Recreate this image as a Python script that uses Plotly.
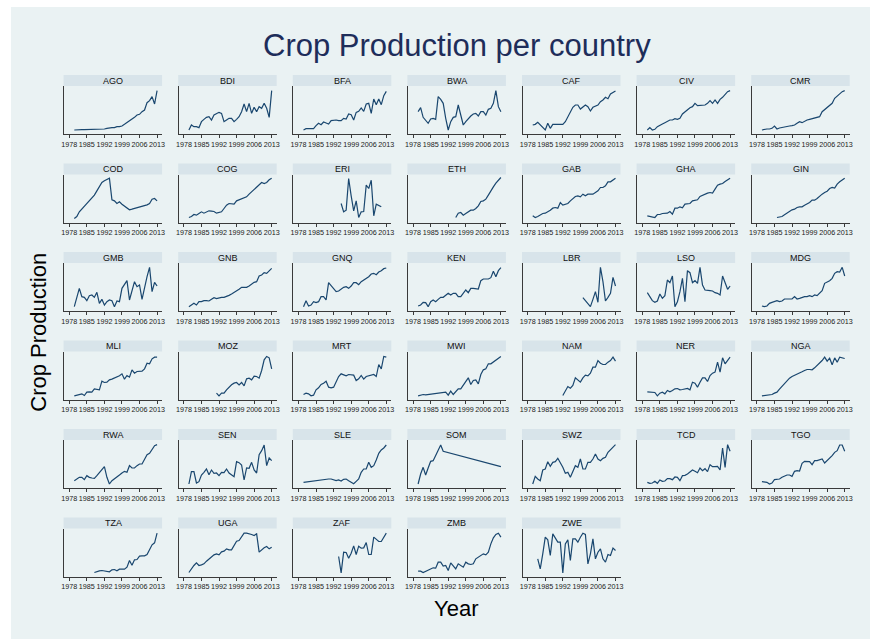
import plotly.graph_objects as go

# ---------------- data (relative crop production index) ----------------
COUNTRIES = ["AGO", "BDI", "BFA", "BWA", "CAF", "CIV", "CMR",
             "COD", "COG", "ERI", "ETH", "GAB", "GHA", "GIN",
             "GMB", "GNB", "GNQ", "KEN", "LBR", "LSO", "MDG",
             "MLI", "MOZ", "MRT", "MWI", "NAM", "NER", "NGA",
             "RWA", "SEN", "SLE", "SOM", "SWZ", "TCD", "TGO",
             "TZA", "UGA", "ZAF", "ZMB", "ZWE"]

START_YEARS = [1980, 1980, 1980, 1980, 1980, 1980, 1980,
               1980, 1980, 1995, 1995, 1980, 1980, 1986,
               1980, 1980, 1980, 1980, 2000, 1980, 1980,
               1980, 1991, 1980, 1980, 1992, 1980, 1980,
               1980, 1980, 1980, 1980, 1980, 1980, 1980,
               1988, 1980, 1994, 1980, 1982]

SOM_YEARS = [1980, 1981, 1982, 1983, 1984, 1985, 1986, 1987, 1988, 1989, 1990, 2013]

AGO = [12, 13, 13, 13, 13, 13, 14, 14, 14, 14, 14, 15, 15, 17, 19, 19, 19, 22, 22, 24, 29, 34, 39, 44, 50, 57, 59, 67, 72, 94, 100, 112, 90, 130]
BDI = [12, 27, 22, 22, 19, 37, 44, 50, 52, 42, 57, 62, 65, 62, 37, 42, 47, 47, 37, 44, 52, 67, 90, 67, 92, 62, 80, 67, 82, 77, 92, 77, 50, 130]
BFA = [12, 16, 16, 16, 16, 25, 32, 28, 36, 33, 30, 40, 42, 42, 40, 40, 47, 45, 60, 58, 42, 65, 68, 78, 68, 90, 92, 62, 105, 88, 105, 88, 115, 128]
BWA = [67, 79, 50, 42, 32, 45, 47, 44, 112, 104, 92, 47, 12, 37, 50, 52, 87, 57, 27, 37, 47, 54, 60, 62, 54, 67, 67, 57, 74, 77, 92, 130, 82, 67]
CAF = [27, 29, 35, 27, 22, 12, 32, 17, 29, 29, 29, 27, 29, 37, 50, 65, 80, 87, 87, 75, 82, 87, 82, 69, 80, 84, 87, 97, 102, 110, 106, 120, 124, 129]
CIV = [12, 19, 12, 14, 22, 27, 30, 34, 37, 42, 42, 46, 44, 47, 60, 67, 72, 79, 82, 92, 85, 85, 87, 87, 92, 100, 92, 102, 92, 104, 110, 120, 127, 130]
CMR = [12, 14, 15, 15, 17, 24, 15, 18, 20, 22, 23, 24, 25, 27, 32, 37, 34, 39, 42, 44, 46, 47, 50, 52, 67, 74, 79, 85, 92, 107, 114, 122, 127, 130]

COD = [12, 18, 32, 40, 48, 58, 65, 72, 82, 95, 110, 120, 125, 128, 133, 68, 65, 57, 62, 55, 50, 43, 38, 40, 42, 45, 47, 49, 51, 53, 57, 70, 72, 65]
COG = [15, 18, 24, 22, 27, 32, 28, 32, 35, 34, 33, 28, 30, 32, 42, 52, 57, 57, 55, 65, 68, 72, 75, 77, 85, 92, 100, 105, 112, 120, 117, 120, 128, 133]
ERI = [57, 32, 37, 132, 80, 35, 65, 15, 32, 33, 112, 102, 127, 20, 55, 50, 47]
ETH = [15, 28, 30, 22, 27, 32, 37, 37, 42, 50, 63, 65, 70, 82, 97, 107, 118, 128, 135]
GAB = [20, 15, 18, 22, 27, 28, 32, 37, 43, 45, 43, 60, 52, 55, 57, 65, 72, 78, 80, 77, 85, 80, 85, 85, 85, 90, 95, 105, 105, 110, 122, 122, 128, 133]
GHA = [20, 18, 15, 15, 24, 24, 27, 27, 28, 33, 25, 43, 43, 47, 44, 55, 57, 57, 65, 67, 68, 78, 82, 85, 88, 90, 88, 100, 112, 115, 117, 123, 128, 133]
GIN = [15, 16, 18, 23, 28, 33, 38, 40, 45, 47, 47, 52, 55, 60, 67, 67, 72, 80, 85, 90, 94, 102, 105, 103, 115, 122, 127, 133]

GMB = [13, 45, 68, 43, 41, 31, 46, 48, 41, 56, 23, 35, 18, 28, 33, 31, 13, 30, 28, 68, 78, 91, 33, 58, 88, 73, 78, 35, 73, 103, 131, 58, 86, 75]
GNB = [13, 17, 23, 18, 28, 28, 31, 31, 30, 35, 40, 37, 40, 41, 41, 43, 47, 51, 55, 59, 65, 71, 71, 71, 75, 81, 86, 88, 105, 108, 115, 113, 121, 128]
GNQ = [13, 31, 15, 18, 28, 25, 28, 43, 43, 33, 85, 75, 65, 58, 60, 65, 71, 73, 68, 75, 85, 85, 79, 88, 93, 98, 103, 111, 113, 109, 117, 121, 127, 129]
KEN = [15, 18, 26, 25, 13, 28, 33, 28, 35, 41, 41, 48, 53, 48, 53, 53, 43, 43, 53, 63, 55, 68, 68, 68, 66, 91, 96, 96, 96, 100, 119, 103, 121, 130]
LBR = [40, 30, 20, 13, 35, 58, 26, 131, 88, 30, 41, 53, 101, 75]
LSO = [55, 43, 31, 26, 30, 51, 38, 46, 93, 85, 105, 13, 28, 58, 98, 28, 121, 115, 85, 91, 83, 131, 78, 63, 61, 61, 60, 55, 53, 48, 105, 83, 65, 75]
MDG = [15, 13, 15, 23, 26, 28, 31, 28, 30, 36, 36, 36, 36, 43, 36, 38, 41, 43, 43, 46, 43, 48, 46, 53, 61, 83, 86, 91, 98, 113, 118, 117, 131, 105]

MLI = [11, 13, 15, 17, 12, 22, 23, 22, 32, 30, 29, 55, 51, 52, 59, 61, 64, 67, 71, 77, 61, 72, 67, 89, 79, 84, 85, 85, 92, 109, 107, 122, 127, 127]
MOZ = [19, 11, 19, 19, 29, 37, 44, 49, 51, 44, 51, 41, 62, 64, 59, 70, 69, 64, 87, 119, 129, 125, 92]
MRT = [15, 19, 17, 11, 13, 29, 35, 45, 49, 55, 37, 35, 37, 55, 69, 77, 75, 71, 75, 74, 73, 57, 62, 72, 61, 69, 71, 73, 75, 69, 105, 92, 129, 127]
MWI = [11, 13, 15, 14, 15, 15, 16, 16, 17, 18, 19, 22, 13, 25, 15, 25, 32, 32, 42, 52, 65, 45, 57, 59, 47, 75, 89, 92, 107, 107, 112, 117, 122, 129]
NAM = [12, 25, 39, 34, 42, 65, 59, 52, 65, 73, 71, 79, 97, 97, 117, 109, 105, 105, 112, 117, 127, 115]
NER = [23, 22, 22, 21, 11, 19, 22, 17, 27, 23, 27, 32, 33, 29, 30, 31, 33, 29, 52, 49, 37, 52, 65, 65, 54, 72, 79, 82, 112, 82, 125, 107, 119, 127]
NGA = [11, 12, 13, 13, 15, 19, 22, 31, 39, 47, 57, 64, 69, 72, 75, 79, 83, 87, 90, 90, 89, 95, 102, 109, 117, 127, 115, 124, 104, 125, 112, 127, 125, 123]

RWA = [22, 28, 32, 32, 25, 37, 32, 30, 29, 37, 47, 57, 64, 32, 12, 22, 27, 32, 39, 45, 50, 47, 67, 60, 60, 67, 72, 72, 84, 100, 104, 114, 127, 130]
SEN = [12, 49, 49, 15, 19, 39, 47, 57, 40, 54, 44, 45, 37, 47, 46, 57, 45, 39, 34, 79, 76, 69, 24, 60, 59, 77, 54, 45, 100, 112, 129, 67, 90, 82]
SLE = [17, 18, 20, 20, 22, 22, 25, 24, 26, 27, 27, 27, 24, 22, 24, 21, 26, 27, 22, 17, 13, 20, 27, 47, 57, 57, 77, 62, 67, 84, 104, 114, 120, 129]
SOM = [12, 42, 62, 39, 60, 80, 82, 97, 114, 129, 110, 64]
SWZ = [12, 35, 27, 22, 54, 57, 79, 65, 77, 79, 89, 77, 62, 44, 47, 32, 52, 67, 62, 87, 57, 57, 77, 77, 87, 102, 87, 82, 89, 92, 107, 114, 122, 130]
TCD = [17, 14, 15, 20, 14, 24, 20, 21, 28, 28, 25, 33, 32, 22, 37, 38, 42, 47, 54, 50, 46, 60, 52, 58, 49, 70, 64, 64, 65, 54, 120, 62, 130, 110]
TGO = [19, 19, 17, 12, 15, 25, 27, 27, 32, 35, 39, 39, 35, 50, 52, 51, 74, 80, 80, 79, 70, 82, 82, 84, 87, 75, 82, 87, 97, 107, 112, 129, 129, 110]

TZA = [12, 15, 17, 18, 16, 15, 14, 20, 21, 17, 22, 22, 22, 28, 48, 34, 50, 51, 61, 62, 62, 66, 83, 95, 101, 130]
UGA = [12, 23, 33, 41, 33, 35, 38, 46, 53, 61, 65, 68, 65, 74, 76, 83, 80, 80, 94, 106, 108, 120, 130, 130, 129, 126, 123, 128, 73, 80, 86, 90, 83, 88]
ZAF = [60, 11, 73, 72, 55, 70, 92, 66, 91, 85, 86, 102, 66, 66, 118, 110, 105, 105, 116, 130]
ZMB = [16, 16, 12, 16, 20, 23, 26, 25, 43, 43, 31, 33, 18, 41, 31, 23, 38, 33, 28, 43, 38, 36, 38, 53, 58, 63, 68, 65, 73, 98, 116, 126, 130, 118]
ZWE = [53, 23, 68, 118, 110, 63, 128, 113, 103, 103, 11, 98, 110, 48, 113, 113, 103, 118, 130, 126, 38, 68, 113, 53, 73, 83, 53, 43, 66, 63, 85, 78]

SERIES = [AGO, BDI, BFA, BWA, CAF, CIV, CMR,
          COD, COG, ERI, ETH, GAB, GHA, GIN,
          GMB, GNB, GNQ, KEN, LBR, LSO, MDG,
          MLI, MOZ, MRT, MWI, NAM, NER, NGA,
          RWA, SEN, SLE, SOM, SWZ, TCD, TGO,
          TZA, UGA, ZAF, ZMB, ZWE]

XTICKS = [1978, 1985, 1992, 1999, 2006, 2013]

# ---------------- layout geometry (pixels) ----------------
W, H = 870, 639
NCOLS = 7
COL_X0, COL_STEP, PLOT_W = 61.7, 115.4, 98.5
ROW_Y0, ROW_STEP, STRIP_H, PLOT_H = 75.0, 88.5, 11.0, 48.0
X_RANGE = [1976, 2015]
Y_RANGE = [0, 144]

FONT = "Liberation Sans, Arial, Helvetica, sans-serif"
LINE_COLOR = "#1A476F"
AXIS_COLOR = "#3a3a3a"
STRIP_COLOR = "#D8E4EA"
BG_COLOR = "#EAF2F3"

fig = go.Figure()
shapes = [dict(type="rect", xref="paper", yref="paper",
               x0=8 / W, x1=1.02, y0=-0.02, y1=1 - 7 / H,
               fillcolor=BG_COLOR, line=dict(width=0), layer="below")]
annotations = []
layout_axes = {}

for i, (name, vals) in enumerate(zip(COUNTRIES, SERIES)):
    r, c = divmod(i, NCOLS)
    left = COL_X0 + c * COL_STEP
    right = left + PLOT_W
    strip_top = ROW_Y0 + r * ROW_STEP
    plot_top = strip_top + STRIP_H
    plot_bot = plot_top + PLOT_H

    if name == "SOM":
        years = SOM_YEARS
    else:
        years = list(range(START_YEARS[i], START_YEARS[i] + len(vals)))

    k = i + 1
    xa = "x" if k == 1 else f"x{k}"
    ya = "y" if k == 1 else f"y{k}"
    fig.add_trace(go.Scatter(x=years, y=vals, mode="lines",
                             line=dict(color=LINE_COLOR, width=1.2),
                             xaxis=xa, yaxis=ya, showlegend=False,
                             hoverinfo="skip"))

    layout_axes[f"xaxis{k}"] = dict(
        domain=[left / W, right / W], anchor=ya, range=X_RANGE,
        tickmode="array", tickvals=XTICKS, ticktext=[str(t) for t in XTICKS],
        tickangle=0, ticks="outside", ticklen=3, tickwidth=1, tickcolor=AXIS_COLOR,
        tickfont=dict(size=7.2, color="#222222", family=FONT),
        showline=True, linecolor=AXIS_COLOR, linewidth=1,
        showgrid=False, zeroline=False, fixedrange=True)
    layout_axes[f"yaxis{k}"] = dict(
        domain=[1 - plot_bot / H, 1 - plot_top / H], anchor=xa, range=Y_RANGE,
        showticklabels=False, ticks="", showline=True, linecolor=AXIS_COLOR,
        linewidth=1, showgrid=False, zeroline=False, fixedrange=True)

    shapes.append(dict(type="rect", xref="paper", yref="paper",
                       x0=(left - 0.7) / W, x1=right / W,
                       y0=1 - plot_top / H, y1=1 - strip_top / H,
                       fillcolor=STRIP_COLOR, line=dict(width=0), layer="below"))
    annotations.append(dict(text=name, xref="paper", yref="paper",
                            x=(left + right) / 2 / W,
                            y=1 - (strip_top + STRIP_H / 2 + 0.3) / H,
                            xanchor="center", yanchor="middle", showarrow=False,
                            font=dict(size=9, color="#111111", family=FONT)))

annotations.append(dict(text="Crop Production", xref="paper", yref="paper",
                        x=36 / W, y=1 - 332 / H, textangle=-90,
                        xanchor="center", yanchor="middle", showarrow=False,
                        font=dict(size=22, color="#000000", family=FONT)))
annotations.append(dict(text="Year", xref="paper", yref="paper",
                        x=456 / W, y=1 - 608 / H,
                        xanchor="center", yanchor="middle", showarrow=False,
                        font=dict(size=22, color="#000000", family=FONT)))
annotations.append(dict(text="Crop Production per country", xref="paper", yref="paper",
                        x=457.5 / W, y=1 - 45 / H,
                        xanchor="center", yanchor="middle", showarrow=False,
                        font=dict(size=31, color="#1E2D5A", family=FONT)))

fig.update_layout(width=W, height=H, autosize=False,
                  margin=dict(l=0, r=0, t=0, b=0, pad=0),
                  paper_bgcolor="#FFFFFF", plot_bgcolor="#FFFFFF",
                  font=dict(family=FONT),
                  shapes=shapes, annotations=annotations, **layout_axes)

fig.write_html("out.html")
